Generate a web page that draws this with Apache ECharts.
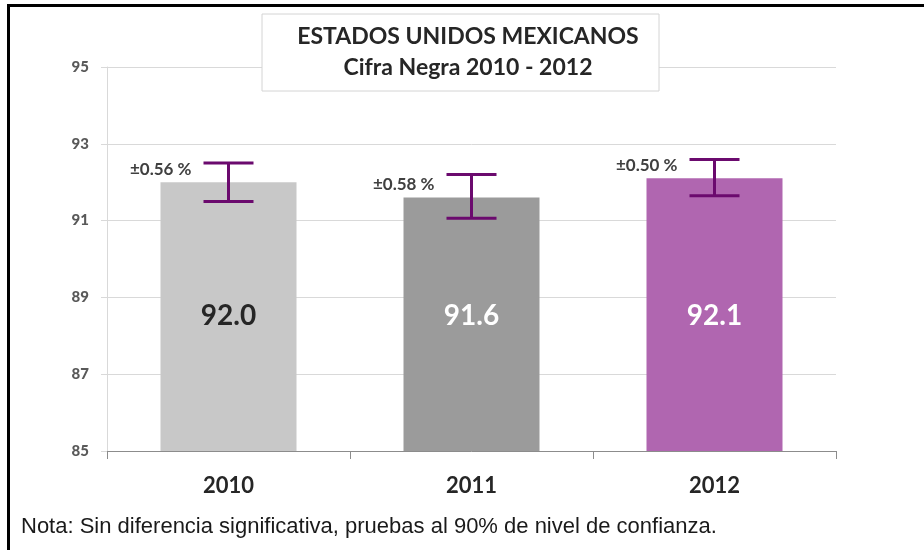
<!DOCTYPE html>
<html>
<head>
<meta charset="utf-8">
<script src="https://cdn.jsdelivr.net/npm/echarts@6/dist/echarts.min.js"></script>
<style>
  html, body { margin: 0; padding: 0; background: #fff; }
  #chart { width: 924px; height: 550px; }
</style>
</head>
<body>
<div id="chart"></div>
<script>
// datos
var years = ["2010", "2011", "2012"];
var values = [92.0, 91.6, 92.1];
var errLow = [91.5, 91.06, 91.65];
var errHigh = [92.5, 92.2, 92.59];
var errLabels = ["±0.56 %", "±0.58 %", "±0.50 %"];
var barColors = ["#c8c8c8", "#9b9b9b", "#b066b0"];
var valueLabelColors = ["#262626", "#ffffff", "#ffffff"];
var titleLines = ["ESTADOS UNIDOS MEXICANOS", "Cifra Negra 2010 - 2012"];
var nota = "Nota: Sin diferencia significativa, pruebas al 90% de nivel de confianza.";

var myChart = echarts.init(document.getElementById("chart"));

var barData = values.map(function (v, i) {
  return {
    value: v,
    itemStyle: { color: barColors[i] },
    label: { color: valueLabelColors[i] }
  };
});

var errData = years.map(function (y, i) {
  return [i, errLow[i], errHigh[i], values[i]];
});

var option = {
  animation: false,
  grid: { left: 107, right: 88, top: 67, bottom: 99 },
  xAxis: {
    type: "category",
    data: years,
    axisLine: { lineStyle: { color: "#8c8c8c", width: 1 } },
    axisTick: { show: true, length: 8, lineStyle: { color: "#8c8c8c" } },
    axisLabel: {
      color: "#262626",
      fontFamily: "Lato",
      fontWeight: "bold",
      fontSize: 22,
      margin: 24
    }
  },
  yAxis: {
    type: "value",
    min: 85,
    max: 95,
    interval: 2,
    axisLine: { show: true, lineStyle: { color: "#d9d9d9" } },
    axisTick: { show: true, length: 6, lineStyle: { color: "#d9d9d9" } },
    splitLine: { lineStyle: { color: "#d9d9d9" } },
    axisLabel: {
      color: "#595959",
      fontFamily: "Lato",
      fontWeight: 900,
      fontSize: 15,
      margin: 18
    }
  },
  series: [
    {
      type: "bar",
      data: barData,
      barWidth: 136,
      label: {
        show: true,
        position: "insideBottom",
        distance: 121,
        fontFamily: "Lato",
        fontWeight: "bold",
        fontSize: 28,
        formatter: function (p) { return p.value.toFixed(1); }
      }
    },
    {
      type: "custom",
      data: errData,
      z: 10,
      renderItem: function (params, api) {
        var top = api.coord([api.value(0), api.value(2)]);
        var bot = api.coord([api.value(0), api.value(1)]);
        var barTop = api.coord([api.value(0), api.value(3)]);
        var x = top[0];
        var half = 25;
        var st = { stroke: "#6b0a6e", lineWidth: 3 };
        return {
          type: "group",
          children: [
            { type: "line", shape: { x1: x, y1: top[1], x2: x, y2: bot[1] }, style: st },
            { type: "line", shape: { x1: x - half, y1: top[1], x2: x + half, y2: top[1] }, style: st },
            { type: "line", shape: { x1: x - half, y1: bot[1], x2: x + half, y2: bot[1] }, style: st },
            {
              type: "text",
              style: {
                x: x - 37,
                y: barTop[1] - 13,
                text: errLabels[params.dataIndex],
                align: "right",
                verticalAlign: "middle",
                fill: "#404040",
                font: "bold 17px Lato"
              }
            }
          ]
        };
      }
    }
  ],
  graphic: [
    { type: "rect", shape: { x: 7, y: 4, width: 917, height: 3 }, style: { fill: "#000" }, z: 100 },
    { type: "rect", shape: { x: 7, y: 4, width: 3, height: 546 }, style: { fill: "#000" }, z: 100 },
    {
      type: "rect",
      shape: { x: 262, y: 14, width: 397, height: 77 },
      style: { fill: "#fff", stroke: "#d4d4d4", lineWidth: 1 },
      z: 100
    },
    {
      type: "text",
      x: 468,
      y: 37,
      style: { text: titleLines[0], align: "center", verticalAlign: "middle", fill: "#262626", font: "bold 23px Lato" },
      z: 101
    },
    {
      type: "text",
      x: 468,
      y: 68,
      style: { text: titleLines[1], align: "center", verticalAlign: "middle", fill: "#262626", font: "bold 23px Lato" },
      z: 101
    },
    {
      type: "text",
      x: 21,
      y: 527,
      style: { text: nota, align: "left", verticalAlign: "middle", fill: "#1a1a1a", font: "22px 'Liberation Sans'" },
      z: 101
    }
  ]
};

myChart.setOption(option);
window.onresize = myChart.resize;
</script>
</body>
</html>
